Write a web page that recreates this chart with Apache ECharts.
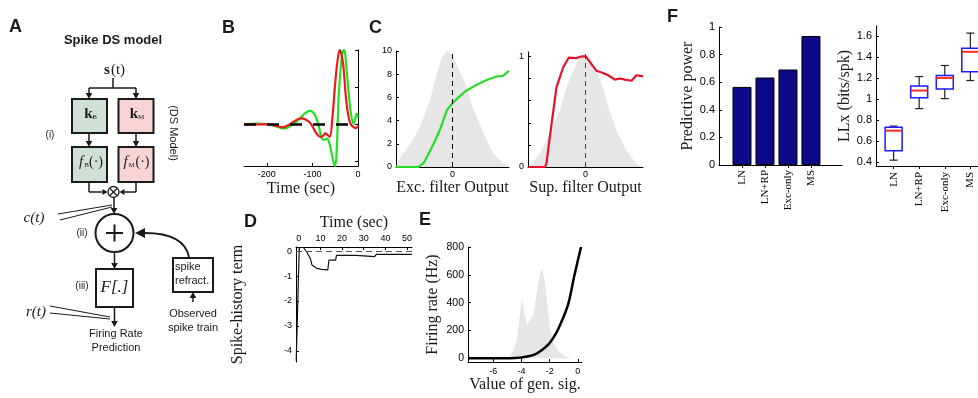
<!DOCTYPE html>
<html>
<head>
<meta charset="utf-8">
<script src="https://cdn.jsdelivr.net/npm/echarts@6/dist/echarts.min.js"></script>
<style>
  html, body { margin: 0; background: #fff; }
  #chart { width: 978px; height: 398px; }
</style>
</head>
<body>
<div id="chart"></div>
<script>
// B: temporal filters [time (sec), amplitude]
const bExcFilter = [[-250,0],[-222,0.01],[-200,0.005],[-178,-0.03],[-160,-0.055],[-145,-0.01],[-127,0.08],[-116,0.15],[-105,0.18],[-95,0.13],[-87,0.0],[-80,-0.18],[-74,-0.21],[-68,-0.19],[-63,-0.25],[-58,-0.38],[-54,-0.5],[-50,-0.56],[-46,-0.25],[-43,0.3],[-40,0.6],[-36,0.88],[-33,0.98],[-30,1.0],[-26,0.8],[-21,0.46],[-16,0.17],[-10,0.01],[-6,0.07],[-3,0.14],[0,0.1]]
const bSupFilter = [[-250,0],[-220,0],[-200,0],[-180,-0.02],[-165,-0.04],[-150,0.0],[-135,0.06],[-125,0.08],[-115,0.065],[-105,0.02],[-97,-0.06],[-90,-0.13],[-83,-0.17],[-76,-0.15],[-72,-0.12],[-67,-0.14],[-62,-0.17],[-56,0.1],[-50,0.55],[-45,0.85],[-40,1.0],[-36,0.93],[-32,0.78],[-26,0.33],[-20,0.08],[-15,-0.01],[-11,-0.03],[-5,-0.05],[0,-0.02]]
const bTimeTicks = [-200, -100, 0]
const bAmpTicks = [-0.5, 0, 0.5, 1]

// C: nonlinearities and filter-output distributions
const cExcOutput = [[-2,0],[-1.2,0],[-1.0,0.4],[-0.67,2.0],[-0.43,3.3],[-0.2,4.9],[0,5.5],[0.21,6.0],[0.5,6.6],[0.86,7.1],[1.21,7.5],[1.56,7.8],[1.79,7.85],[2.0,8.3]]
const cExcHist = [[-2,0],[-1.84,0.86],[-1.49,2.0],[-1.14,3.5],[-0.79,5.8],[-0.55,8.1],[-0.38,9.4],[-0.22,10],[-0.02,9.65],[0.15,8.8],[0.45,7.2],[0.62,5.8],[0.86,4.3],[1.15,2.6],[1.44,1.15],[1.79,0.3],[2.0,0.06]]
const cSupOutput = [[-1.99,0],[-1.41,0],[-1.36,0.03],[-1.18,0.39],[-1.01,0.72],[-0.78,0.9],[-0.58,0.99],[-0.31,0.985],[-0.14,1.0],[0.01,1.0],[0.15,0.95],[0.38,0.87],[0.61,0.85],[0.79,0.83],[1.02,0.79],[1.19,0.8],[1.37,0.79],[1.6,0.78],[1.77,0.83],[2.0,0.82]]
const cSupHist = [[-1.94,0.015],[-1.59,0.12],[-1.24,0.3],[-0.89,0.51],[-0.66,0.72],[-0.43,0.87],[-0.2,0.99],[-0.02,1.02],[0.15,0.98],[0.38,0.87],[0.61,0.72],[0.79,0.54],[1.08,0.33],[1.43,0.15],[1.77,0.03],[1.95,0]]
const cExcTicks = [0, 2, 4, 6, 8, 10]
const cSupTicks = [0, 0.2, 0.4, 0.6, 0.8, 1]
const cSupLabels = [0, 1]

// D: spike-history term [time (sec), value]
const dSpikeHistory = [[-1.2,-4.4],[0.2,0.15],[2.2,0.15],[3.7,-0.03],[5.3,-0.29],[6.1,-0.56],[7.3,-0.62],[8.3,-0.69],[10.6,-0.73],[13.4,-0.75],[13.9,-0.36],[17.0,-0.36],[17.4,-0.17],[26.4,-0.17],[27.2,-0.22],[35.0,-0.22],[35.8,-0.13],[52.3,-0.13]]
const dTimeTicks = [0, 10, 20, 30, 40, 50]
const dValTicks = [-4, -3, -2, -1, 0]

// E: output nonlinearity and generator-signal distribution
const eNonlinearity = [[-7.8,0],[-5,0],[-4.5,2],[-4,6],[-3.5,14],[-3,30],[-2.67,50],[-2.08,100],[-1.72,150],[-1.44,200],[-1.0,300],[-0.65,400],[-0.23,600],[0.23,800]]
const eGenSigHist = [[-5.04,0],[-4.8,12],[-4.57,60],[-4.33,131],[-4.16,275],[-3.97,430],[-3.81,334],[-3.62,239],[-3.38,275],[-3.15,311],[-2.96,442],[-2.67,621],[-2.55,638],[-2.38,585],[-2.15,370],[-1.96,203],[-1.72,107],[-1.37,48],[-0.89,12],[-0.41,0]]
const eGenTicks = [-6, -4, -2, 0]
const eRateTicks = [0, 200, 400, 600, 800]

// F: model comparison
const fModels = ['LN', 'LN+RP', 'Exc-only', 'MS']
const fModelPos = [1, 2, 3, 4]
const fPredPower = [0.566, 0.634, 0.692, 0.935]
// [min, q1, median, q3, max]
const fLLx = [
  [0.416, 0.506, 0.698, 0.73, 0.742],
  [0.909, 1.014, 1.082, 1.126, 1.216],
  [1.005, 1.098, 1.203, 1.226, 1.322],
  [1.178, 1.261, 1.453, 1.488, 1.632]
]
const fPowerTicks = [0, 0.2, 0.4, 0.6, 0.8, 1]
const fLLxTicks = [0.4, 0.6, 0.8, 1, 1.2, 1.4, 1.6]

const SANS = 'Liberation Sans, Arial, sans-serif'
const SERIF = 'Liberation Serif, Times New Roman, serif'
const INK = '#1a1a1a'

const chart = echarts.init(document.getElementById('chart'))

const axis = (gridIndex, min, max, o = {}) => ({
  type: 'value', gridIndex, min, max,
  position: o.pos,
  axisLine: { show: true, onZero: false, lineStyle: { color: '#000', width: 1 } },
  axisTick: { show: !!o.ticks, inside: !o.out, length: 3, customValues: o.ticks, lineStyle: { color: '#000' } },
  axisLabel: {
    show: !!o.labels, customValues: o.labels, formatter: o.fmt, rotate: o.rotate || 0,
    margin: o.margin == null ? 4 : o.margin, fontSize: o.fs || 9, fontFamily: o.ff || SANS, color: '#000'
  },
  splitLine: { show: false },
  name: o.name || '', nameLocation: 'middle', nameGap: o.gap || 0,
  nameTextStyle: { fontFamily: SERIF, fontSize: 16, color: '#1a1a1a' }
})

const grid = (left, top, width, height) => ({ left, top, width, height, containLabel: false, outerBoundsMode: 'none' })

const modelName = v => fModels[Math.round(v) - 1] || ''

const zeroLine = (key, width, dash, color) => ({
  silent: true, symbol: 'none', label: { show: false },
  lineStyle: { color: color || '#000', width, type: dash },
  data: [{ [key]: 0 }]
})

const line = (i, data, color, width, extra) => Object.assign({
  type: 'line', xAxisIndex: i, yAxisIndex: i, data, symbol: 'none',
  lineStyle: { color, width }, itemStyle: { color }
}, extra || {})

const area = (i, data) => ({
  type: 'line', xAxisIndex: i, yAxisIndex: i, data, symbol: 'none', z: 1,
  lineStyle: { width: 0, color: '#e6e6e6' }, areaStyle: { color: '#e6e6e6', opacity: 1 }
})

// ---------- panel A diagram ----------
const arrow = (x1, y1, x2, y2, head = 6, w = 3.3) => {
  const a = Math.atan2(y2 - y1, x2 - x1)
  const bx = x2 - head * Math.cos(a), by = y2 - head * Math.sin(a)
  const px = -Math.sin(a) * w, py = Math.cos(a) * w
  return [
    { type: 'line', shape: { x1, y1, x2: bx, y2: by }, style: { stroke: INK, lineWidth: 1.5 } },
    { type: 'polygon', shape: { points: [[x2, y2], [bx + px, by + py], [bx - px, by - py]] }, style: { fill: INK } }
  ]
}
const seg = (x1, y1, x2, y2, lw = 1.5) => ({ type: 'line', shape: { x1, y1, x2, y2 }, style: { stroke: INK, lineWidth: lw } })
const txt = (x, y, text, font, align = 'center', extra = {}) => Object.assign({
  type: 'text', x, y, style: { text, font, fill: INK, align, verticalAlign: 'middle' }
}, extra)
const box = (x, y, w, h, fill) => ({ type: 'rect', shape: { x, y, width: w, height: h }, style: { fill, stroke: INK, lineWidth: 2 } })

const diagram = [
  txt(113, 40, 'Spike DS model', 'bold 13px ' + SANS),
  txt(107, 70, 's', 'bold 15px ' + SERIF),
  txt(118, 70, '(t)', '15px ' + SERIF),
  seg(113, 78, 113, 88),
  seg(89, 88, 136, 88),
  ...arrow(89, 88, 89, 99),
  ...arrow(136, 88, 136, 99),
  box(72, 99, 35, 34, '#cfe1d5'),
  box(118.5, 99, 35, 34, '#f8d4d4'),
  txt(88.5, 114, 'k', 'bold 15px ' + SERIF),
  txt(94.5, 117, 'B', '7px ' + SERIF),
  txt(134, 114, 'k', 'bold 15px ' + SERIF),
  txt(141, 117, 'M', '7px ' + SERIF),
  ...arrow(89, 133, 89, 147),
  ...arrow(136, 133, 136, 147),
  box(72, 147, 35, 35, '#cfe1d5'),
  box(118.5, 147, 35, 35, '#f8d4d4'),
  txt(81, 162, 'f', 'italic 15px ' + SERIF),
  txt(86.5, 165, 'B', '7px ' + SERIF),
  txt(96, 162, '(·)', '14px ' + SERIF),
  txt(125.5, 162, 'f', 'italic 15px ' + SERIF),
  txt(131.5, 165, 'M', '7px ' + SERIF),
  txt(142.5, 162, '(·)', '14px ' + SERIF),
  txt(50, 135, '(i)', '10px ' + SANS),
  txt(173, 133, '(DS Model)', '11px ' + SANS, 'center', { rotation: -Math.PI / 2 }),
  seg(89, 182, 89, 192),
  ...arrow(89, 192, 107.5, 192, 5, 3),
  seg(136, 182, 136, 192),
  ...arrow(136, 192, 119.5, 192, 5, 3),
  { type: 'circle', shape: { cx: 113.5, cy: 192, r: 5.5 }, style: { fill: '#fff', stroke: INK, lineWidth: 1.3 } },
  seg(110, 188.5, 117, 195.5, 1.2),
  seg(117, 188.5, 110, 195.5, 1.2),
  ...arrow(114, 197.5, 114, 214),
  txt(34, 218, 'c(t)', 'italic 15px ' + SERIF),
  seg(58, 214, 112, 205, 1),
  seg(60, 220, 112, 207, 1),
  { type: 'circle', shape: { cx: 114.5, cy: 233, r: 19 }, style: { fill: '#fff', stroke: INK, lineWidth: 2 } },
  seg(106, 233, 123, 233, 2),
  seg(114.5, 224.5, 114.5, 241.5, 2),
  txt(82, 233, '(ii)', '10px ' + SANS),
  ...arrow(114.5, 252, 114.5, 269),
  box(96, 269, 37, 38, '#fff'),
  txt(114.5, 288, 'F[.]', 'italic 17px ' + SERIF),
  txt(82, 286, '(iii)', '10px ' + SANS),
  ...arrow(114.5, 307, 114.5, 327),
  txt(36, 312, 'r(t)', 'italic 15px ' + SERIF),
  seg(50, 306, 110, 317, 1),
  seg(50, 313, 110, 319, 1),
  txt(116, 334, 'Firing Rate', '11px ' + SANS),
  txt(116, 348, 'Prediction', '11px ' + SANS),
  box(173, 258, 40, 34, '#fff'),
  txt(175, 267, 'spike', '11px ' + SANS, 'left'),
  txt(175, 281, 'refract.', '11px ' + SANS, 'left'),
  ...arrow(193, 302, 193, 292),
  txt(193, 314, 'Observed', '11px ' + SANS),
  txt(193, 328, 'spike train', '11px ' + SANS),
  { type: 'bezierCurve', shape: { x1: 189, y1: 257, x2: 145, y2: 233, cpx1: 184, cpy1: 233 }, style: { stroke: INK, lineWidth: 1.8, fill: null } },
  { type: 'polygon', shape: { points: [[135, 233], [145, 228], [145, 238]] }, style: { fill: INK } }
]

const letters = [
  txt(9, 27, 'A', 'bold 18px ' + SANS, 'left'),
  txt(222, 28, 'B', 'bold 18px ' + SANS, 'left'),
  txt(369, 28, 'C', 'bold 18px ' + SANS, 'left'),
  txt(244, 222, 'D', 'bold 18px ' + SANS, 'left'),
  txt(419, 220, 'E', 'bold 18px ' + SANS, 'left'),
  txt(667, 17, 'F', 'bold 18px ' + SANS, 'left')
]

// ---------- chart ----------
const option = {
  animation: false,
  backgroundColor: '#fff',
  grid: [
    grid(244, 50, 114, 116),   // B
    grid(396, 51, 113, 116),   // C exc
    grid(528, 52, 115, 115),   // C sup
    grid(296, 247, 116, 115),  // D
    grid(468, 247, 114, 115),  // E
    grid(719, 27, 123, 138),   // F power
    grid(876, 26, 102, 140)    // F LLx
  ],
  xAxis: [
    axis(0, -250, 0, { ticks: bTimeTicks, labels: bTimeTicks, name: 'Time (sec)', gap: 15 }),
    axis(1, -2, 2, { ticks: [0], labels: [0], name: 'Exc. filter Output', gap: 13, margin: 3 }),
    axis(2, -2, 2, { ticks: [0], labels: [0], name: 'Sup. filter Output', gap: 13, margin: 3 }),
    axis(3, -1.3, 52.3, { pos: 'top', ticks: dTimeTicks, labels: dTimeTicks, name: 'Time (sec)', gap: 16 }),
    axis(4, -7.8, 0.3, { ticks: eGenTicks, labels: eGenTicks, name: 'Value of gen. sig.', gap: 15, margin: 5 }),
    axis(5, 0, 5.35, { ticks: fModelPos, labels: fModelPos, fmt: modelName, rotate: 90, ff: SERIF, fs: 11, margin: 5, out: true }),
    axis(6, 0.31, 4.3, { ticks: fModelPos, labels: fModelPos, fmt: modelName, rotate: 90, ff: SERIF, fs: 11, margin: 6, out: true })
  ],
  yAxis: [
    axis(0, -0.56, 1, { pos: 'right', ticks: bAmpTicks }),
    axis(1, 0, 10, { ticks: cExcTicks, labels: cExcTicks }),
    axis(2, 0, 1.04, { ticks: cSupTicks, labels: cSupLabels }),
    axis(3, -4.45, 0.17, { ticks: dValTicks, labels: dValTicks, name: 'Spike-history term', gap: 50 }),
    axis(4, -27, 800, { ticks: eRateTicks, labels: eRateTicks, fs: 10.5, name: 'Firing rate (Hz)', gap: 27 }),
    axis(5, 0, 1, { ticks: fPowerTicks, labels: fPowerTicks, fs: 11, name: 'Predictive power', gap: 21 }),
    axis(6, 0.36, 1.7, { ticks: fLLxTicks, labels: fLLxTicks, fs: 11, name: 'LLx (bits/spk)', gap: 21 })
  ],
  series: [
    // B
    line(0, bExcFilter, '#22e022', 2.2, { smooth: 0.35, z: 2 }),
    line(0, bSupFilter, '#ec1a1a', 2.2, { smooth: 0.35, z: 3, markLine: zeroLine('yAxis', 2.6, [12, 11]) }),
    // C
    area(1, cExcHist),
    line(1, cExcOutput, '#27dc27', 2.2, { z: 3, markLine: zeroLine('xAxis', 1, [5, 4]) }),
    area(2, cSupHist),
    line(2, cSupOutput, '#e4122a', 2.2, { z: 3, markLine: zeroLine('xAxis', 1, [5, 4], '#444') }),
    // D
    line(3, dSpikeHistory, '#111', 1.2, { z: 3, markLine: zeroLine('yAxis', 1, [6, 4], '#555') }),
    // E
    area(4, eGenSigHist),
    line(4, eNonlinearity, '#000', 2.5, { smooth: 0.3, z: 3 }),
    // F predictive power
    {
      type: 'bar', xAxisIndex: 5, yAxisIndex: 5, barWidth: 19,
      data: fPredPower.map((v, i) => [fModelPos[i], v]),
      itemStyle: { color: '#0b0b8a', borderColor: '#000', borderWidth: 1 }
    },
    // F LLx box plots
    {
      type: 'custom', xAxisIndex: 6, yAxisIndex: 6,
      data: fLLx.map((b, i) => [fModelPos[i], ...b]),
      encode: { x: 0, y: [1, 2, 3, 4, 5] },
      renderItem: (params, api) => {
        const x = api.value(0)
        const p = k => api.coord([x, api.value(k)])
        const lo = p(1), q1 = p(2), md = p(3), q3 = p(4), hi = p(5)
        const cx = lo[0], hw = 8.5, cw = 4
        const ws = { stroke: '#222', lineWidth: 1.2 }
        return {
          type: 'group',
          children: [
            { type: 'line', shape: { x1: cx, y1: q3[1], x2: cx, y2: hi[1] }, style: ws },
            { type: 'line', shape: { x1: cx, y1: q1[1], x2: cx, y2: lo[1] }, style: ws },
            { type: 'line', shape: { x1: cx - cw, y1: hi[1], x2: cx + cw, y2: hi[1] }, style: ws },
            { type: 'line', shape: { x1: cx - cw, y1: lo[1], x2: cx + cw, y2: lo[1] }, style: ws },
            { type: 'rect', shape: { x: cx - hw, y: q3[1], width: 2 * hw, height: q1[1] - q3[1] }, style: { fill: '#fff', stroke: '#1c1cff', lineWidth: 1.5 } },
            { type: 'line', shape: { x1: cx - hw, y1: md[1], x2: cx + hw, y2: md[1] }, style: { stroke: '#ff2a2a', lineWidth: 2 } }
          ]
        }
      }
    }
  ],
  graphic: [...diagram, ...letters]
}

chart.setOption(option)
</script>
</body>
</html>
